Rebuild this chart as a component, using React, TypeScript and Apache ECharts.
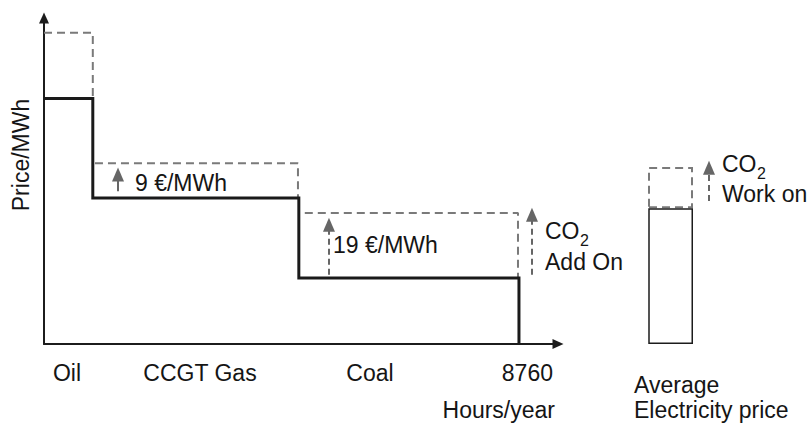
import React, { useEffect, useRef } from 'react';
import * as echarts from 'echarts';

// ---- data ----
const fuels = ['Oil', 'CCGT Gas', 'Coal'];
const hoursStart = [0, 900, 4700];
const hoursEnd = [900, 4700, 8760];
const price = [71, 42.2, 19.1];
const priceWithCO2 = [90, 52.3, 37.9];
const yearHours = 8760;
const avgCategories = ['Average', 'CO2 work on'];
const avgPrice = [39.3, '-'];
const avgCO2WorkOn = [11.9, '-'];
const co2Labels = ['9 €/MWh', '19 €/MWh'];
// CO2 arrows (hours, from price, to price)
const arrowHours = [1365, 5256, 9000];
const arrowFrom = [44.2, 20.0, 20.0];
const arrowTo = [49.0, 34.5, 37.4];
const workOnArrow = [41.4, 51.0];

// ---- layout / style (not data) ----
const dashStartInset = [0, 40, 110];
const dashEndInset = [0, 16, 18];
const FONT = '"Liberation Sans", Arial, Helvetica, sans-serif';
const TXT = '#151515';
const GRAY = '#7a7a7a';
const ARROW = '#666666';
const Y_MAX = 94.3;
const X_MAX = 9480;

function buildOption() {
  const solid: number[][] = [];
  fuels.forEach((_, i) => {
    solid.push([hoursStart[i], price[i]]);
    solid.push([hoursEnd[i], price[i]]);
  });
  solid.push([yearHours, 0]);

  const dashedSeries = fuels.map((f, i) => ({
    type: 'line',
    name: f + ' + CO2',
    data: [
      [hoursStart[i] + dashStartInset[i], priceWithCO2[i]],
      [hoursEnd[i] - dashEndInset[i], priceWithCO2[i]],
      [hoursEnd[i] - dashEndInset[i], price[i]],
    ],
    symbol: 'none',
    silent: true,
    lineStyle: { color: GRAY, width: 2, type: [8, 5] },
    z: 2,
  }));

  const arrowLines = arrowHours.map((h, i) => {
    const ls = i === 0 ? { type: 'solid', color: ARROW, width: 2 } : { type: [6, 4], color: ARROW, width: 2 };
    return [
      { coord: [h, arrowFrom[i]], lineStyle: ls },
      { coord: [h, arrowTo[i]], lineStyle: ls },
    ];
  });

  const t = (text: string, x: number, y: number, align = 'left', size = 23) => ({
    type: 'text',
    x,
    y,
    silent: true,
    style: {
      text,
      fill: TXT,
      fontSize: size,
      fontFamily: FONT,
      textAlign: align,
      textVerticalAlign: 'middle',
    },
  });

  const arrowMark = {
    silent: true,
    symbol: ['none', 'triangle'],
    symbolSize: [12, 14],
    label: { show: false },
    emphasis: { disabled: true },
    lineStyle: { color: ARROW, width: 2, type: [6, 4] },
    itemStyle: { color: ARROW },
  };

  return {
    animation: false,
    backgroundColor: '#ffffff',
    grid: [
      { left: 44, right: 254, top: 18, bottom: 82 },
      { left: 649, right: 83, top: 18, bottom: 82 },
    ],
    xAxis: [
      {
        type: 'value',
        gridIndex: 0,
        min: 0,
        max: X_MAX,
        axisLine: {
          show: true,
          symbol: ['none', 'triangle'],
          symbolSize: [10, 11],
          lineStyle: { color: '#1c1c1c', width: 2 },
        },
        axisTick: { show: false },
        axisLabel: { show: false },
        splitLine: { show: false },
      },
      { type: 'category', gridIndex: 1, data: avgCategories, show: false },
    ],
    yAxis: [
      {
        type: 'value',
        gridIndex: 0,
        min: 0,
        max: Y_MAX,
        name: 'Price/MWh',
        nameLocation: 'middle',
        nameRotate: 90,
        nameGap: 12,
        nameTextStyle: {
          fontSize: 23,
          color: TXT,
          fontFamily: FONT,
          padding: [0, 0, 0, 52],
        },
        axisLine: {
          show: true,
          symbol: ['none', 'triangle'],
          symbolSize: [10, 11],
          lineStyle: { color: '#1c1c1c', width: 2 },
        },
        axisTick: { show: false },
        axisLabel: { show: false },
        splitLine: { show: false },
      },
      { type: 'value', gridIndex: 1, min: 0, max: Y_MAX, show: false },
    ],
    series: [
      ...dashedSeries,
      {
        type: 'line',
        name: 'Merit order',
        data: solid,
        symbol: 'none',
        silent: true,
        lineStyle: { color: '#1a1a1a', width: 3, join: 'miter', cap: 'butt' },
        z: 3,
        markLine: { ...arrowMark, data: arrowLines },
      },
      {
        type: 'bar',
        name: 'Average electricity price',
        xAxisIndex: 1,
        yAxisIndex: 1,
        stack: 'avg',
        barWidth: 48,
        silent: true,
        z: 3,
        data: avgPrice,
        itemStyle: { color: '#ffffff', borderColor: '#1c1c1c', borderWidth: 1.5 },
      },
      {
        type: 'bar',
        name: 'CO2 work on',
        xAxisIndex: 1,
        yAxisIndex: 1,
        stack: 'avg',
        barWidth: 48,
        silent: true,
        z: 2,
        data: avgCO2WorkOn,
        itemStyle: { color: 'rgba(0,0,0,0)', borderColor: GRAY, borderWidth: 2, borderType: [8, 5] },
        markLine: {
          ...arrowMark,
          data: [[{ coord: [avgCategories[1], workOnArrow[0]] }, { coord: [avgCategories[1], workOnArrow[1]] }]],
        },
      },
    ],
    graphic: [
      t(co2Labels[0], 135, 183),
      t(co2Labels[1], 333, 245),
      t('CO', 545, 231),
      t('2', 580, 240, 'left', 16),
      t('Add On', 545, 262),
      t('CO', 722, 164),
      t('2', 757, 173, 'left', 16),
      t('Work on', 722, 194),
      t(fuels[0], 67, 373, 'center'),
      t(fuels[1], 200, 373, 'center'),
      t(fuels[2], 370, 373, 'center'),
      t(String(yearHours), 553, 373, 'right'),
      t('Hours/year', 555, 410, 'right'),
      t('Average', 634, 385),
      t('Electricity price', 634, 410),
    ],
  };
}

export default function App() {
  const ref = useRef<HTMLDivElement>(null);
  useEffect(() => {
    if (!ref.current) return;
    const chart = echarts.init(ref.current, undefined, { renderer: 'svg' });
    chart.setOption(buildOption() as any);
    return () => chart.dispose();
  }, []);
  return (
    <div
      ref={ref}
      style={{ position: 'fixed', left: 0, top: 0, width: 812, height: 426, background: '#fff' }}
    />
  );
}
